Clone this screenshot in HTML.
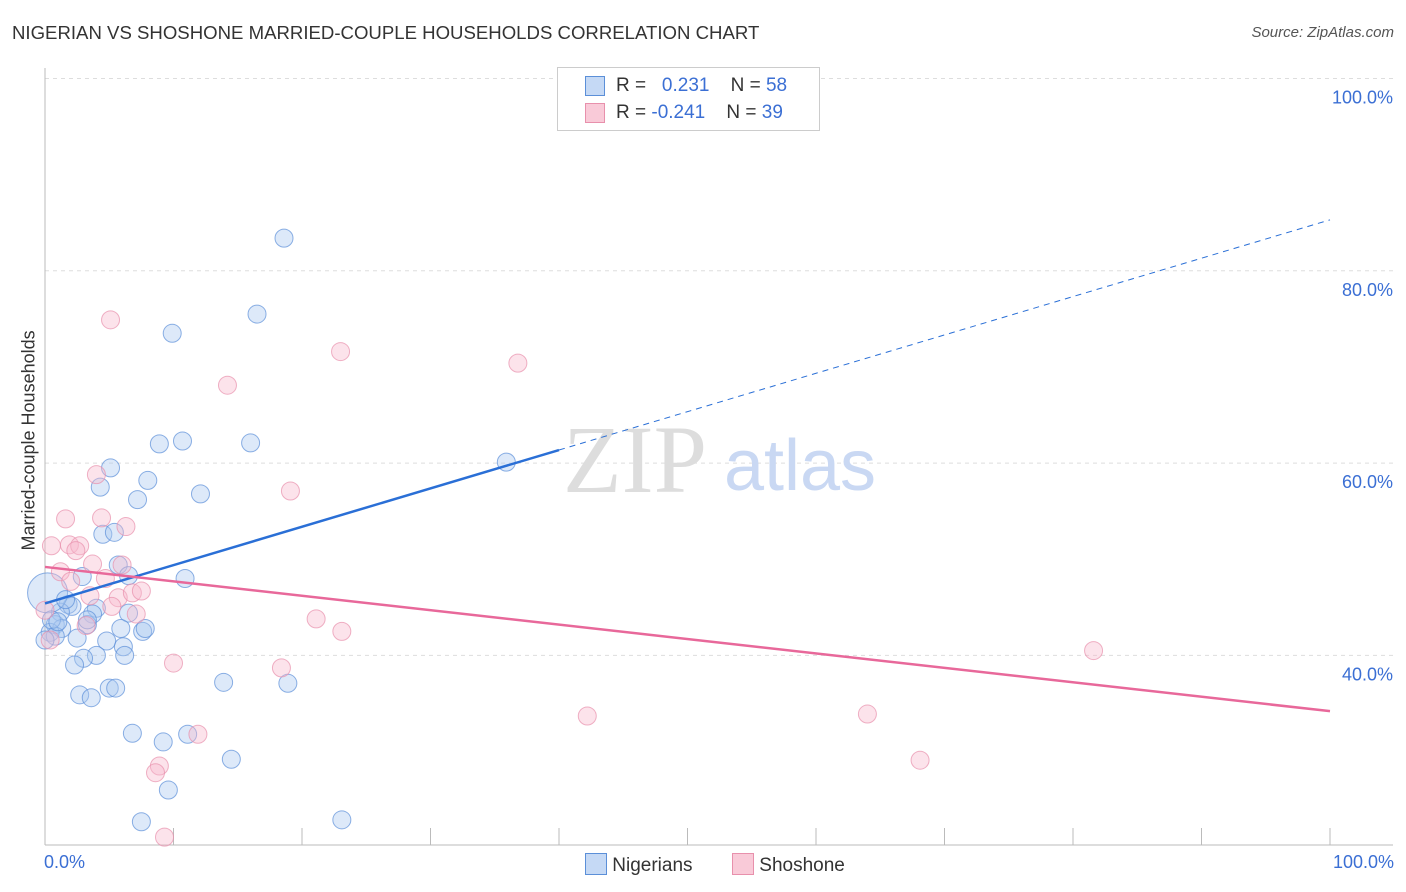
<!DOCTYPE html>
<html><head><meta charset="utf-8">
<style>
body{margin:0;background:#fff;font-family:"Liberation Sans",sans-serif;}
#wrap{position:relative;width:1406px;height:892px;overflow:hidden;}
.t{position:absolute;white-space:nowrap;}
</style></head><body>
<div id="wrap">
<div class="t" style="left:12px;top:22px;font-size:18.6px;color:#333;">NIGERIAN VS SHOSHONE MARRIED-COUPLE HOUSEHOLDS CORRELATION CHART</div>
<div class="t" style="right:12px;top:24px;font-size:15px;color:#555;font-style:italic;">Source: ZipAtlas.com</div>
<svg id="svg" width="1406" height="892" style="position:absolute;left:0;top:0"></svg>
</div>
<script>
const blueX=[18.6,16.5,9.9,8.9,10.7,16.0,5.1,8.0,4.3,35.9,7.2,12.1,4.5,5.4,5.7,6.5,2.9,10.9,6.5,4.0,1.8,2.1,1.2,3.7,0.8,1.3,3.3,0.4,0.8,2.5,5.9,7.6,4.8,6.1,6.2,4.0,3.0,2.3,0.2,13.9,18.9,5.0,5.5,2.7,3.6,6.8,9.2,11.1,14.5,9.6,7.5,23.1,0.5,0,1.0,1.6,3.3,7.8];
const blueY=[83.4,75.5,73.5,62.0,62.3,62.1,59.5,58.2,57.5,60.1,56.2,56.8,52.6,52.8,49.4,48.3,48.2,48.0,44.4,44.9,45.3,45.1,44.5,44.3,43.2,42.8,43.2,42.4,42.0,41.8,42.8,42.5,41.5,40.9,40.0,40.0,39.7,39.0,46.5,37.2,37.1,36.6,36.6,35.9,35.6,31.9,31.0,31.8,29.2,26.0,22.7,22.9,43.7,41.6,43.5,45.8,43.7,42.8];
const pinkX=[5.1,23.0,36.8,14.2,4.0,19.1,1.6,4.4,6.3,0.5,1.9,2.7,2.4,3.7,6.0,1.2,4.7,2.0,3.5,5.7,6.8,7.5,5.2,7.1,21.1,23.1,3.2,81.6,10.0,18.4,42.2,64.0,68.1,11.9,8.9,8.6,9.3,0.4,0];
const pinkY=[74.9,71.6,70.4,68.1,58.8,57.1,54.2,54.3,53.4,51.4,51.5,51.4,50.9,49.5,49.4,48.7,48.0,47.7,46.2,46.0,46.5,46.7,45.1,44.3,43.8,42.5,43.1,40.5,39.2,38.7,33.7,33.9,29.1,31.8,28.5,27.8,21.1,41.6,44.7];
const blueTrend=[45.4,85.3];
const pinkTrend=[49.2,34.2];
const yTicks=[100,80,60,40];
const xTickVals=[0,10,20,30,40,50,60,70,80,90,100];
const sx=v=>45+v*12.85;
const sy=v=>1040-v*9.615;
const svg=document.getElementById('svg');
const NS='http://www.w3.org/2000/svg';
function mk(tag,a){const e=document.createElementNS(NS,tag);for(const k in a)e.setAttribute(k,a[k]);svg.appendChild(e);return e;}
yTicks.forEach(v=>{
 const l=mk('line',{x1:45,x2:1393,y1:sy(v),y2:sy(v),stroke:'#ddd','stroke-dasharray':'4,4'});
 
 
 const t=mk('text',{x:1393,y:sy(v)+25,'text-anchor':'end','font-size':18,fill:'#3b6fd4','font-family':'Liberation Sans'});
 t.textContent=v.toFixed(1)+'%';
 
 
});
let ax=mk('line',{x1:45,x2:45,y1:68,y2:845,stroke:'#bbb'});


ax=mk('line',{x1:45,x2:1393,y1:845,y2:845,stroke:'#bbb'});


xTickVals.forEach(v=>{const l=mk('line',{x1:sx(v),x2:sx(v),y1:828,y2:845,stroke:'#bbb'});
 
 });
let wm=mk('text',{x:635,y:492,'text-anchor':'middle','font-size':96,fill:'#ddd','font-family':'Liberation Serif'});wm.textContent='ZIP';


wm=mk('text',{x:800,y:490,'text-anchor':'middle','font-size':72,fill:'#c9d8f3','font-family':'Liberation Sans'});wm.textContent='atlas';


function pts(X,Y,fill,stroke,name){X.forEach((x,i)=>{const big=(x===0.2&&Y[i]===46.5);const c=mk('circle',{cx:sx(x),cy:sy(Y[i]),r:big?20:9,fill:fill,'fill-opacity':0.4,stroke:stroke,'stroke-opacity':0.7,'stroke-width':1});
 
 });}
pts(blueX,blueY,'#a9c8f0','#5b8fd8','nigerian-point');
pts(pinkX,pinkY,'#f7b9cc','#e890ac','shoshone-point');
const bAt=x=>blueTrend[0]+(blueTrend[1]-blueTrend[0])*x/100;
let tl=mk('line',{x1:sx(0),y1:sy(bAt(0)),x2:sx(40),y2:sy(bAt(40)),stroke:'#2a6fd6','stroke-width':2.5});


tl=mk('line',{x1:sx(40),y1:sy(bAt(40)),x2:sx(100),y2:sy(bAt(100)),stroke:'#2a6fd6','stroke-width':1,'stroke-dasharray':'6,5'});


tl=mk('line',{x1:sx(0),y1:sy(pinkTrend[0]),x2:sx(100),y2:sy(pinkTrend[1]),stroke:'#e8689a','stroke-width':2.5});


</script>
<div class="t" style="left:-66px;top:445px;transform:rotate(-90deg);font-size:18px;color:#333;width:190px;text-align:center;">Married-couple Households</div>
<div class="t" style="left:44px;top:852px;font-size:18px;color:#3b6fd4;">0.0%</div>
<div class="t" style="right:12px;top:852px;font-size:18px;color:#3b6fd4;">100.0%</div>
<div style="position:absolute;left:557px;top:67px;width:261px;height:62px;border:1px solid #ccc;background:#fff;font-size:19px;color:#333;">
 <div style="position:absolute;left:27px;top:8px;width:18px;height:18px;background:#c5d9f5;border:1px solid #5b8fd8;"></div>
 <div class="t" style="left:58px;top:7px;">R = <span style="color:#3b6fd4">&nbsp; 0.231</span> &nbsp;&nbsp; N = <span style="color:#3b6fd4">58</span></div>
 <div style="position:absolute;left:27px;top:35px;width:18px;height:18px;background:#f9cad8;border:1px solid #e890ac;"></div>
 <div class="t" style="left:58px;top:34px;">R = <span style="color:#3b6fd4">-0.241</span> &nbsp;&nbsp; N = <span style="color:#3b6fd4">39</span></div>
</div>
<div style="position:absolute;left:585px;top:853px;font-size:19px;color:#333;">
 <span style="display:inline-block;width:20px;height:20px;background:#c5d9f5;border:1px solid #5b8fd8;vertical-align:-4px;"></span> Nigerians</div>
<div style="position:absolute;left:732px;top:853px;font-size:19px;color:#333;">
 <span style="display:inline-block;width:20px;height:20px;background:#f9cad8;border:1px solid #e890ac;vertical-align:-4px;"></span> Shoshone</div>
</body></html>
